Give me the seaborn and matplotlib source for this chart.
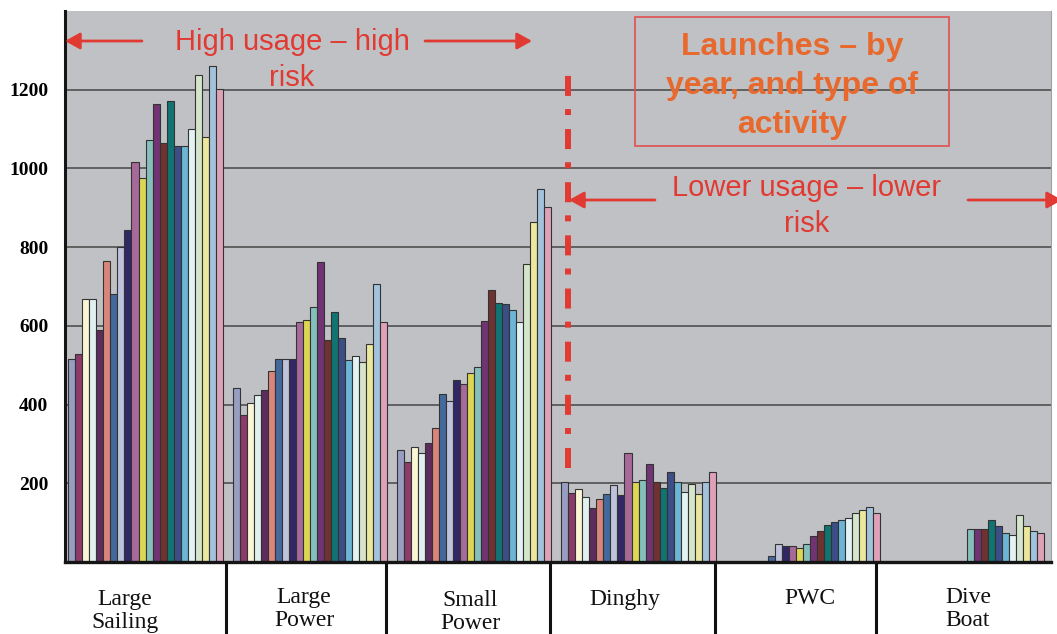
import matplotlib
matplotlib.use("Agg")
import matplotlib.pyplot as plt
from matplotlib.lines import Line2D
from matplotlib.patches import Rectangle
import seaborn as sns
import pandas as pd

# launches per activity type, one value per year (None = no data)
types = ['Large Sailing', 'Large Power', 'Small Power', 'Dinghy', 'PWC', 'Dive Boat']
years = [f'Year {i}' for i in range(1, 23)]
large_sailing = [515, 528, 667, 668, 590, 766, 681, 801, 843, 1017, 976,
                 1072, 1163, 1065, 1172, 1057, 1057, 1100, 1237, 1079, 1260, 1201]
large_power = [441, 373, 405, 424, 437, 485, 515, 517, 515, 610, 616,
               649, 761, 564, 634, 568, 513, 524, 507, 554, 706, 609]
small_power = [285, 255, 291, 276, 302, 341, 426, 410, 462, 452, 480,
               495, 612, 691, 659, 656, 640, 611, 757, 863, 947, 903]
dinghy = [203, 175, 186, 166, 137, 159, 172, 195, 170, 277, 203,
          208, 249, 203, 187, 228, 203, 178, 199, 172, 204, 228]
pwc = [None, None, None, None, None, None, 14, 45, 40, 40, 35,
       45, 65, 80, 93, 102, 107, 112, 125, 132, 140, 125]
dive_boat = [None, None, None, None, None, None, None, None, None, None, None,
             85, 83, 85, 107, 92, 73, 68, 120, 92, 80, 73]
y_ticks = [200, 400, 600, 800, 1000, 1200]
bottom_labels = ['Large\nSailing', 'Large\nPower', 'Small\nPower', 'Dinghy', 'PWC', 'Dive\nBoat']

year_colors = ['#9099c9', '#9b2d6b', '#fffbd0', '#def3f1', '#662266', '#e8796c',
               '#3567ab', '#b9bfe0', '#2b1d6f', '#b05fa0', '#f3eb3c', '#7cc8c3',
               '#7b287f', '#7b2626', '#008482', '#2f4893', '#5bbce6', '#e1f4f4',
               '#d3e9c7', '#f8f38f', '#99c4e6', '#e897b5']

rows = []
for t, vals in zip(types, [large_sailing, large_power, small_power, dinghy, pwc, dive_boat]):
  for y, v in zip(years, vals):
    rows.append({'type': t, 'year': y, 'launches': v})
df = pd.DataFrame(rows).dropna()

W, H = 1057, 634
fx = lambda x: x / W
fy = lambda y: 1 - y / H

red = '#e03a33'
orange = '#e8692e'

fig = plt.figure(figsize=(W / 100, H / 100), dpi=100)
ax = fig.add_axes([fx(65), fy(562), fx(1051) - fx(65), fy(11) - fy(562)])
ax.set_facecolor('#c0c1c4')

sns.barplot(data=df, x='type', y='launches', hue='year', order=types,
            hue_order=years, palette=year_colors, width=0.94, errorbar=None,
            edgecolor='#333333', linewidth=0.8, legend=False, ax=ax)

ax.set_xlim(-0.49, 5.51)
ax.set_ylim(0, 1400)
ax.set_xticks([])
ax.set_xlabel('')
ax.set_ylabel('')
ax.set_yticks(y_ticks)
ax.set_yticklabels([str(v) for v in y_ticks], family=['Liberation Serif'],
                   weight='bold', fontsize=14)
ax.tick_params(axis='y', length=0, pad=12)
ax.yaxis.grid(True, color='#505050', lw=1.2)
ax.set_axisbelow(True)
ax.spines['top'].set_visible(False)
ax.spines['right'].set_color('#a0a0a4')
ax.spines['right'].set_linewidth(0.8)
ax.spines['left'].set_linewidth(2.2)
ax.spines['left'].set_color('#151515')
ax.spines['bottom'].set_linewidth(2.4)
ax.spines['bottom'].set_color('#151515')

# dividing line between high and low usage
ax.vlines(2.57, 240, 1238, color=red, lw=4.3, linestyles=[(0, (3.35, 2.35, 1, 2.2))])

# bottom label table
for x in [226, 386, 550, 715, 876]:
  fig.add_artist(Line2D([fx(x), fx(x)], [0, fy(564)], transform=fig.transFigure,
                        color='#111111', lw=2.2))
label_pos = [(125, 611), (304, 609), (470, 612), (625, 600), (810, 598), (968, 609)]
for lab, (x, y) in zip(bottom_labels, label_pos):
  fig.text(fx(x), fy(y), lab, ha='center', va='center', fontsize=17,
           family=['Liberation Serif'], linespacing=1.12, color='#111111')

# annotations
def arrow(x0, x1, y):
  ax.annotate('', xy=(fx(x1), fy(y)), xytext=(fx(x0), fy(y)),
              xycoords='figure fraction', textcoords='figure fraction',
              arrowprops=dict(arrowstyle='-|>,head_length=0.45,head_width=0.25',
                              color=red, lw=2, mutation_scale=20,
                              shrinkA=0, shrinkB=0),
              annotation_clip=False)

fig.text(fx(292), fy(60), 'High usage – high\nrisk', ha='center', va='center',
         fontsize=21, family=['Liberation Sans'], color=red, linespacing=1.38)
arrow(142, 65, 41)
arrow(425, 532, 41)

fig.text(fx(807), fy(206), 'Lower usage – lower\nrisk', ha='center', va='center',
         fontsize=21, family=['Liberation Sans'], color=red, linespacing=1.38)
arrow(655, 569, 200)
arrow(968, 1062, 200)

fig.add_artist(Rectangle((fx(635), fy(146)), fx(949) - fx(635), fy(17) - fy(146),
                         transform=fig.transFigure, fill=False,
                         edgecolor='#e05050', lw=1.2))
fig.text(fx(792), fy(86), 'Launches – by\nyear, and type of\nactivity', ha='center',
         va='center', fontsize=23, weight='bold', family=['Liberation Sans'],
         color=orange, linespacing=1.38)

fig.savefig('out.png', dpi=100)
